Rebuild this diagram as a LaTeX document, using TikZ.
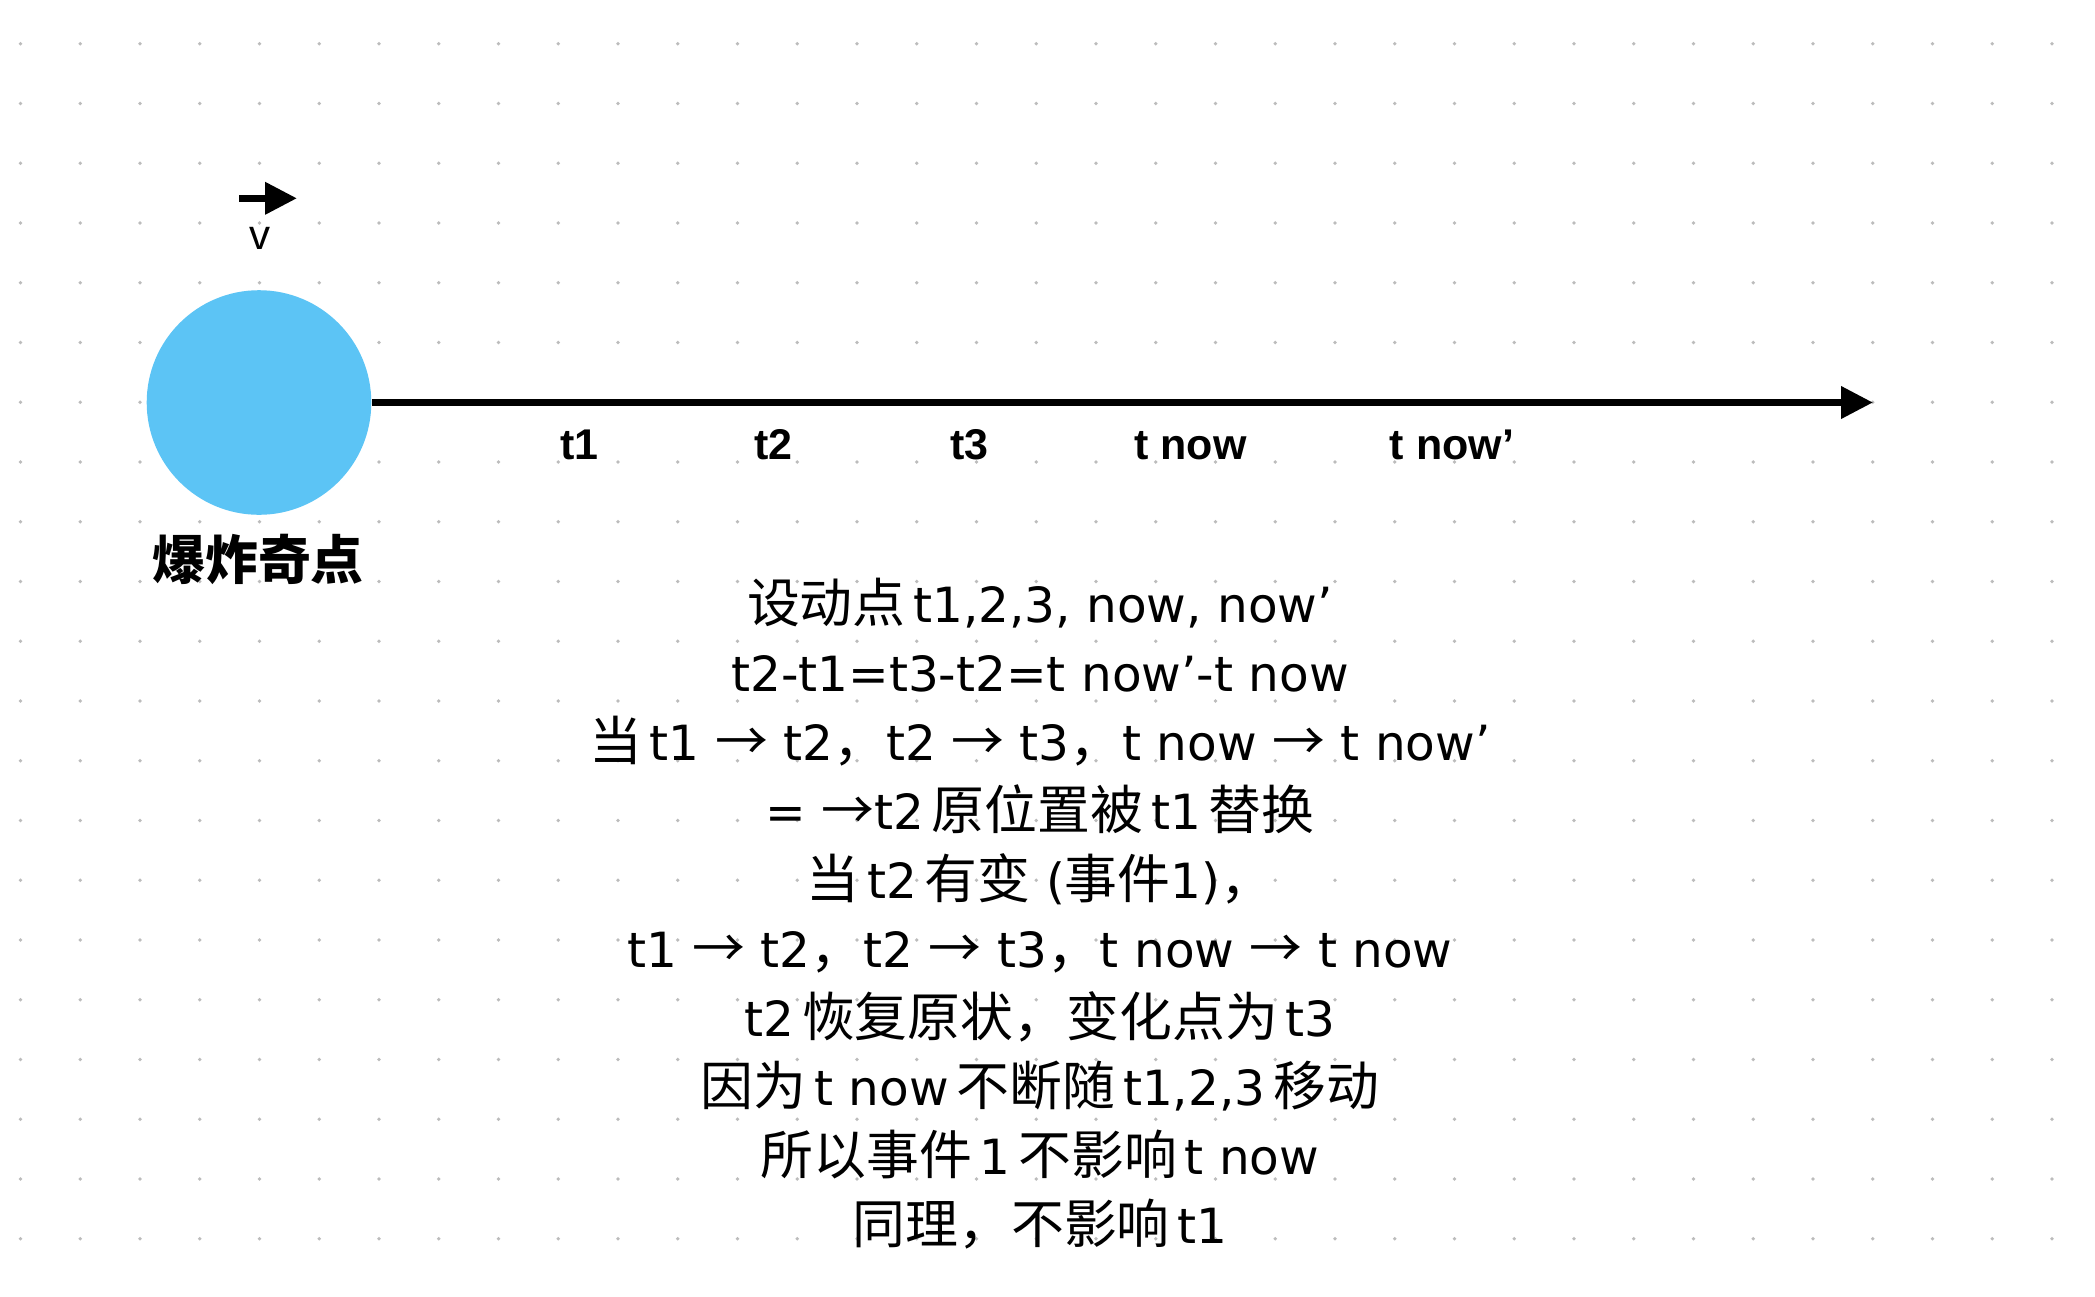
\documentclass[tikz,border=0pt]{standalone}
\usepackage{fontspec}
\setmainfont{DejaVu Sans}
\newfontfamily\cjk[Scale=1.09]{Noto Sans CJK SC}
\newfontfamily\lab{Liberation Sans}
\usetikzlibrary{arrows.meta}
\definecolor{sing}{RGB}{92,196,245}
\definecolor{dotc}{RGB}{188,188,188}
\newcommand\zh[1]{{\cjk #1}}
\newcommand\gp{\hspace{0.16em}}
\newcommand\ar{{\cjk →}}
\tikzset{
  axisline/.style={line width=7pt, -{Triangle[length=32pt,width=31pt]}},
  txt/.style={anchor=base, inner sep=0pt, font=\fontsize{48.5}{56}\selectfont},
  lbl/.style={anchor=base, inner sep=0pt, font=\lab\bfseries\fontsize{43}{50}\selectfont},
  vlbl/.style={anchor=base, inner sep=0pt, font=\lab\fontsize{42}{50}\selectfont},
  title/.style={anchor=base, inner sep=0pt, font=\bfseries\fontsize{48.5}{56}\selectfont},
}
\begin{document}
\begin{tikzpicture}[x=1pt,y=-1pt]
\fill[white] (0,0) rectangle (2095,1296);
\useasboundingbox (0,0) rectangle (2095,1296);
% dot grid
\foreach \i in {0,...,34}{
  \foreach \j in {0,...,20}{
    \fill[dotc] (20.5+\i*59.75, 43.8+\j*59.75) circle[radius=1.9pt];
  }
}
% singularity
\node[circle, fill=sing, minimum size=224.6pt, inner sep=0pt] (o) at (259,402.5) {};
\coordinate (axend) at (1873,402.5);
\draw[axisline] (o) -- (axend);
\node[title] (name) at (258,579) {\zh{爆炸奇点}};
% velocity arrow
\coordinate (va) at (239,198.3);
\coordinate (vb) at (297,198.3);
\draw[axisline] (va) -- (vb);
\node[vlbl] (v) at (259.7,249) {v};
% time labels
\node[lbl] (t1) at (579.5,459) {t1};
\node[lbl] (t2) at (773.5,459) {t2};
\node[lbl] (t3) at (969.5,459) {t3};
\node[lbl] (tn) at (1190.5,459) {t now};
\node[lbl] (tnp) at (1452,459) {t now’};
% explanation text
\node[txt] (l1) at (1040,622) {\zh{设动点}\gp t1,2,3, now, now’};
\node[txt] (l2) at (1040,691) {t2-t1=t3-t2=t now’-t now};
\node[txt] (l3) at (1040,760) {\zh{当}\gp t1 \ar\ t2\zh{，}t2 \ar\ t3\zh{，}t now \ar\ t now’};
\node[txt] (l4) at (1040,829) {= \ar t2\gp\zh{原位置被}\gp t1\gp\zh{替换}};
\node[txt] (l5) at (1040,898) {\zh{当}\gp t2\gp\zh{有变} (\zh{事件}1)\zh{，}};
\node[txt] (l6) at (1040,967) {t1 \ar\ t2\zh{，}t2 \ar\ t3\zh{，}t now \ar\ t now};
\node[txt] (l7) at (1040,1036) {t2\gp\zh{恢复原状，变化点为}\gp t3};
\node[txt] (l8) at (1040,1105) {\zh{因为}\gp t now\gp\zh{不断随}\gp t1,2,3\gp\zh{移动}};
\node[txt] (l9) at (1040,1174) {\zh{所以事件}\gp 1\gp\zh{不影响}\gp t now};
\node[txt] (l10) at (1040,1243) {\zh{同理，不影响}\gp t1};
\end{tikzpicture}
\end{document}
